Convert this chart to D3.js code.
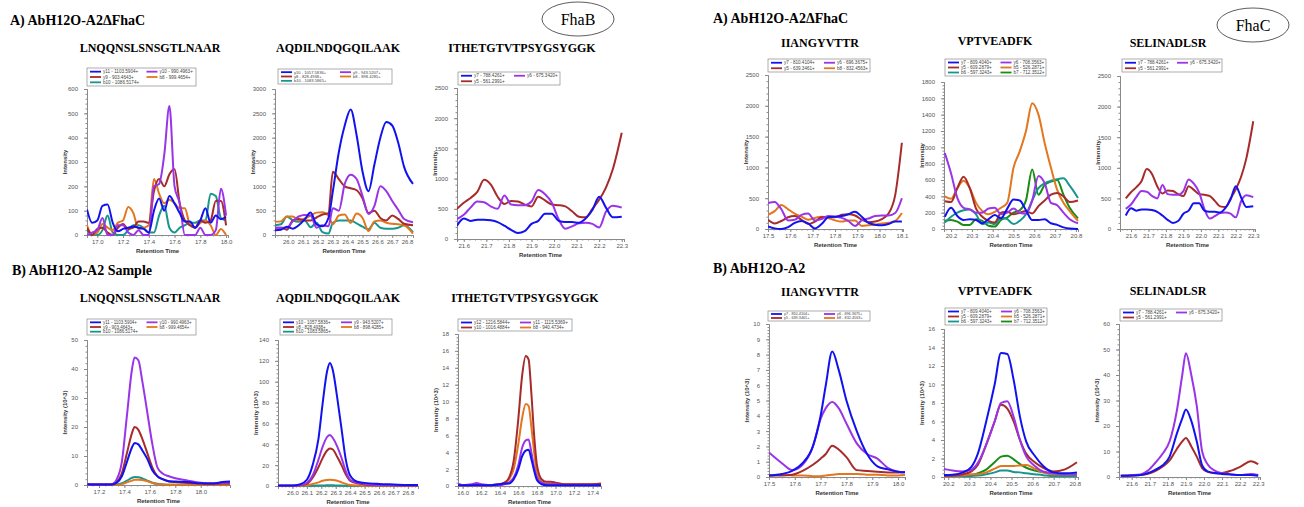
<!DOCTYPE html>
<html>
<head>
<meta charset="utf-8">
<script src="https://cdn.jsdelivr.net/npm/d3@7"></script>
<style>
  body { margin: 0; background: #fff; }
  svg { display: block; }
  .tick text { fill: #555; font-family: "Liberation Sans", Arial, sans-serif; font-size: 6px; }
  .domain, .tick line { stroke: #8a8a8a; }
</style>
</head>
<body>
<script>
// ---- colours of the fragment ions ----
const cBlue = "#1212f0", cRed = "#a62b2b", cPurple = "#9a34e8", cOrange = "#e3761e", cTeal = "#16968c", cGreen = "#178c17";

// ---- A) ΔFhaC, LNQQNSLSNSGTLNAAR ----
const t1 = [16.92,16.96,17.00,17.04,17.08,17.12,17.16,17.20,17.24,17.28,17.32,17.36,17.40,17.44,17.48,17.52,17.56,17.60,17.64,17.68,17.72,17.76,17.80,17.84,17.88,17.92,17.96,18.00];
const p1Blue   = [105,50,60,120,125,50,15,25,30,35,30,25,10,100,150,100,160,130,90,55,55,30,60,110,50,80,65,75];
const p1Purple = [0,10,20,70,0,0,40,40,10,0,20,0,0,200,210,330,530,200,130,0,0,0,30,0,0,20,190,80];
const p1Red    = [30,0,25,30,10,0,30,45,25,30,55,55,50,180,230,200,250,270,130,60,40,30,60,50,60,140,140,40];
const p1Orange = [40,0,10,45,30,20,50,60,115,90,25,30,40,230,170,130,145,130,110,110,40,30,50,60,40,0,25,0];
const p1Teal   = [20,0,0,20,80,10,0,0,20,40,40,30,10,10,80,120,30,10,30,40,50,50,60,60,170,160,70,60];

// ---- A) ΔFhaC, AQDILNDQGQILAAK ----
const t2 = [25.91,25.95,25.99,26.03,26.07,26.11,26.15,26.19,26.23,26.27,26.30,26.34,26.38,26.42,26.46,26.50,26.54,26.58,26.62,26.66,26.70,26.74,26.78,26.84];
const p2Blue   = [100,110,170,130,200,320,460,220,180,350,900,1700,2250,2580,2050,1300,900,1450,2000,2320,2250,1900,1400,1050];
const p2Purple = [150,150,150,280,380,410,400,150,200,180,550,500,1050,1240,1150,800,430,600,1000,900,700,520,330,260];
const p2Red    = [150,150,110,300,330,300,300,360,420,450,1300,1150,1000,960,920,750,450,500,350,300,400,330,230,200];
const p2Orange = [270,280,380,380,300,340,400,460,470,400,220,400,420,250,440,350,80,280,300,250,230,220,200,30];
const p2Teal   = [200,220,380,300,270,300,160,250,60,30,250,300,300,300,240,170,120,250,150,130,130,150,200,60];

// ---- A) ΔFhaC, ITHETGTVTPSYGSYGGK and SELINADLSR (same trace) ----
const t3 = [21.57,21.60,21.63,21.66,21.69,21.72,21.75,21.78,21.81,21.84,21.87,21.90,21.93,21.96,21.99,22.02,22.05,22.08,22.11,22.14,22.17,22.20,22.23,22.26,22.30];
const p3Blue   = [220,340,300,320,320,310,280,220,150,100,130,250,300,420,420,300,280,280,270,340,480,700,520,360,370];
const p3Red    = [500,600,680,780,980,900,700,580,630,620,570,540,700,640,570,560,540,460,370,360,500,650,850,1150,1760];
const p3Purple = [330,400,520,620,610,540,500,720,570,560,560,620,810,740,600,330,170,210,260,270,250,190,450,550,520];

// ---- B) Sample, LNQQNSLSNSGTLNAAR ----
const t4 = [17.11,17.20,17.30,17.34,17.38,17.42,17.46,17.48,17.51,17.54,17.58,17.62,17.66,17.70,17.75,17.80,17.90,18.00,18.10,18.17,18.23];
const p4Purple = [0.3,0.2,0.3,2,8,24,40,44,43,36,25,14,6,4,3,2.3,1.5,0.8,0.6,0.8,0.8];
const p4Red    = [0.2,0.2,0.2,1,4,11,18,20,19,16,11,6,3,2,1.2,1,0.7,0.5,0.4,0.5,0.5];
const p4Blue   = [0.3,0.2,0.2,0.8,3,8,13,14.5,14,12,9,5,3,2,1.3,1.2,1,0.6,0.5,1,1.2];
const p4Teal   = [0.1,0.1,0.1,0.2,0.6,1.5,2.5,2.8,2.7,2.3,1.5,0.8,0.4,0.2,0.1,0.1,0.1,0.1,0.1,0.1,0.1];
const p4Orange = [0.1,0.1,0.1,0.1,0.3,0.9,1.5,1.8,1.8,1.7,1.3,0.7,0.3,0.2,0.1,0.1,0.1,0.1,0.1,0.1,0.1];

// ---- B) Sample, AQDILNDQGQILAAK ----
const t5 = [25.90,26.00,26.05,26.10,26.14,26.18,26.21,26.24,26.26,26.28,26.31,26.34,26.37,26.40,26.45,26.50,26.60,26.70,26.80,26.87];
const p5Blue   = [0.5,0.5,1.5,6,20,45,80,110,118,111,85,55,25,10,4,3,2,1.5,1,1];
const p5Purple = [0.3,0.3,0.8,3,10,25,38,47,49,46,38,27,14,6,3,2,1,0.8,0.6,0.5];
const p5Red    = [0.3,0.3,0.6,2,8,18,27,34,36,35,28,20,11,5,2.5,1.5,0.8,0.6,0.5,0.4];
const p5Orange = [0.2,0.2,0.3,0.8,2,3.5,5,5.8,6,5.8,5,3.5,2,1,0.5,0.3,0.2,0.2,0.2,0.2];
const p5Teal   = [0.1,0.1,0.1,0.2,0.3,0.4,0.5,0.6,0.6,0.6,0.5,0.4,0.3,0.2,0.1,0.1,0.1,0.1,0.1,0.1];

// ---- B) Sample, ITHETGTVTPSYGSYGGK ----
const t6 = [15.95,16.00,16.10,16.15,16.20,16.30,16.40,16.45,16.50,16.55,16.60,16.64,16.68,16.71,16.74,16.77,16.80,16.85,16.90,16.95,17.00,17.10,17.20,17.30,17.40,17.49];
const p6Red    = [0.2,0.1,0.1,0.2,0.1,0.1,0.2,0.4,1,3,8,13,15.4,15,11,6,2.5,0.8,0.5,0.5,0.4,0.2,0.2,0.2,0.2,0.3];
const p6Orange = [0.1,0.1,0.1,0.1,0.1,0.1,0.2,0.3,0.8,2,5,8,9.7,9.5,7,4,1.5,0.5,0.3,0.3,0.3,0.2,0.2,0.2,0.2,0.2];
const p6Purple = [0.2,0.1,0.2,0.35,0.2,0.1,0.1,0.2,0.4,1,2.5,4.5,5.4,5.5,4,2.2,1,0.4,0.2,0.2,0.2,0.1,0.1,0.1,0.1,0.1];
const p6Blue   = [0.1,0.1,0.1,0.1,0.1,0.1,0.2,0.3,0.3,0.8,2,3.5,4.2,4.3,3.2,1.8,0.7,0.2,0.1,0.1,0.1,0.1,0.1,0.1,0.1,0.1];

// ---- A) ΔFhaC, IIANGYVTTR ----
const t7 = [17.50,17.53,17.56,17.59,17.62,17.65,17.68,17.71,17.74,17.77,17.80,17.83,17.86,17.89,17.92,17.95,17.98,18.01,18.04,18.07,18.10];
const p7Blue   = [40,10,0,30,100,130,90,10,80,190,200,210,240,280,200,100,70,60,80,120,120];
const p7Red    = [150,90,130,190,210,150,80,120,190,200,190,230,240,220,150,110,120,160,250,550,1400];
const p7Purple = [420,440,320,140,150,230,250,140,160,210,200,180,130,50,140,170,210,220,220,260,500];
const p7Orange = [230,290,390,320,250,200,150,180,200,180,140,120,140,140,50,60,70,90,100,130,260];

// ---- A) ΔFhaC, VPTVEADFK ----
const t8 = [20.17,20.20,20.23,20.26,20.29,20.32,20.35,20.38,20.41,20.44,20.47,20.50,20.53,20.56,20.59,20.62,20.65,20.68,20.71,20.74,20.77,20.81];
const p8Blue   = [150,260,160,110,120,110,70,120,170,130,250,360,350,230,110,110,120,70,50,20,5,0];
const p8Orange = [400,370,500,590,500,320,220,180,210,260,320,750,950,1200,1540,1400,1050,750,480,320,220,100];
const p8Red    = [340,330,500,640,500,250,150,100,80,200,210,180,200,220,190,280,350,420,440,400,330,350];
const p8Purple = [930,680,380,260,240,200,200,250,260,180,200,250,200,190,350,650,560,320,290,200,120,70];
const p8Teal   = [80,150,200,230,240,180,60,80,60,140,120,60,100,180,350,500,560,590,610,620,530,380];
const p8Green  = [100,110,90,50,50,120,100,40,30,110,140,200,230,350,730,420,540,580,600,420,260,130];

// ---- B) IIANGYVTTR ----
const t10 = [17.50,17.55,17.59,17.63,17.67,17.70,17.72,17.745,17.77,17.80,17.84,17.88,17.92,17.96,18.00,18.04,18.08,18.12];
const p10Blue   = [0.1,0.2,0.4,0.9,2,4,6,8.2,7,5,3,1.5,0.7,0.5,0.35,0.3,0.3,0.4];
const p10Purple = [1.6,0.9,0.45,0.8,2,3.8,4.5,4.9,4.5,3.5,2.2,1.5,1.2,0.6,0.35,0.3,0.3,0.3];
const p10Red    = [0.1,0.1,0.15,0.4,0.8,1.2,1.5,2.05,1.8,1.3,0.45,0.4,0.35,0.3,0.3,0.35,0.6,0.9];
const p10Orange = [0.1,0.15,0.1,0.1,0.05,0.05,0.1,0.15,0.2,0.2,0.2,0.15,0.15,0.1,0.1,0.15,0.2,0.2];

// ---- B) VPTVEADFK ----
const t11 = [20.17,20.22,20.27,20.31,20.34,20.38,20.42,20.45,20.48,20.51,20.54,20.57,20.61,20.65,20.70,20.75,20.81];
const p11Blue   = [0.2,0.25,0.5,1.1,2.5,6,10,13.4,13.3,10.5,6.5,3.8,2.3,1.2,0.5,0.4,0.5];
const p11Purple = [0.9,0.7,0.6,0.8,1.5,3.5,6,8,8.2,6.5,4,2.2,1.2,0.6,0.4,0.3,0.3];
const p11Red    = [0.1,0.15,0.3,0.6,1.3,3.5,6,7.8,7.4,6,4,2.5,1.6,1,0.6,0.8,1.6];
const p11Green  = [0.1,0.1,0.15,0.2,0.4,0.8,1.6,2.2,2.3,1.9,1.4,1,0.7,0.5,0.3,0.2,0.2];
const p11Orange = [0.1,0.15,0.2,0.3,0.3,0.5,0.9,1.2,1.2,1.2,1.25,1.3,0.9,0.5,0.3,0.3,0.3];
const p11Teal   = [0.1,0.1,0.1,0.1,0.15,0.3,0.5,0.7,0.7,0.55,0.5,0.4,0.3,0.2,0.1,0.1,0.1];

// ---- B) SELINADLSR ----
const t12 = [21.54,21.60,21.65,21.69,21.73,21.77,21.81,21.85,21.88,21.90,21.93,21.96,21.99,22.02,22.06,22.10,22.15,22.20,22.26,22.30];
const p12Purple = [0.5,0.7,1,2.5,5.5,9,14,26,40,48.5,40,28,10,5,2.5,1.5,1,0.8,1.2,0.8];
const p12Blue   = [0.5,0.6,0.8,1.5,2.8,4.5,8,17,23,26.5,22,14,4.5,2.2,1.6,1.2,1,0.8,0.8,0.5];
const p12Red    = [0.5,0.6,0.8,1.3,2.3,4,6.5,11,14,15.3,12,8,3.5,2,1.5,1.6,2.5,4,6.2,5];

// ---- legend labels ----
const lgLNQQ  = ["y11 - 1103.5904+","y10 - 990.4963+","y9 - 903.4643+","b8 - 999.4654+","b10 - 1086.5174+"];
const lgAQDI  = ["y10 - 1057.5836+","y9 - 943.5207+","y8 - 828.4938+","b8 - 898.4285+","b10 - 1083.5865+"];
const lgSELI  = ["y7 - 788.4261+","y6 - 675.3420+","y5 - 561.2991+"];
const lgITHE  = ["y12 - 1216.5844+","y11 - 1115.5369+","y10 - 1016.4884+","b8 - 940.4734+"];
const lgIIAN  = ["y7 - 810.4104+","y6 - 696.3675+","y5 - 639.3461+","b8 - 832.4563+"];
const lgVPTV  = ["y7 - 809.4040+","y6 - 708.3563+","y5 - 609.2879+","b5 - 526.2871+","b6 - 597.3243+","b7 - 712.3512+"];

// ---- tick labels ----
const xt17a = [17.0,17.2,17.4,17.6,17.8,18.0];
const xt17b = [17.2,17.4,17.6,17.8,18.0];
const xt26  = [26.0,26.1,26.2,26.3,26.4,26.5,26.6,26.7,26.8];
const xt21  = [21.6,21.7,21.8,21.9,22.0,22.1,22.2,22.3];
const xt16  = [16.0,16.2,16.4,16.6,16.8,17.0,17.2,17.4];
const xt175 = [17.5,17.6,17.7,17.8,17.9,18.0,18.1];
const xt175b = [17.5,17.6,17.7,17.8,17.9,18.0];
const xt20  = [20.2,20.3,20.4,20.5,20.6,20.7,20.8];

const panels = [
  {title:"LNQQNSLSNSGTLNAAR", tx:150, ty:52, left:87, right:228, top:89, bottom:235, xDom:[16.92,18.015], yMax:600, yStep:100, xTicks:xt17a, xMinor:0.05,
   t:t1, series:[[p1Blue,cBlue],[p1Purple,cPurple],[p1Red,cRed],[p1Orange,cOrange],[p1Teal,cTeal]], legend:lgLNQQ, lg:[87,68,109,18], ylab:"Intensity"},
  {title:"AQDILNDQGQILAAK", tx:338, ty:52, left:275, right:413, top:89, bottom:235, xDom:[25.91,26.84], yMax:3000, yStep:500, xTicks:xt26, xMinor:0.025,
   t:t2, series:[[p2Blue,cBlue],[p2Purple,cPurple],[p2Red,cRed],[p2Orange,cOrange],[p2Teal,cTeal]], legend:lgAQDI, lg:[278,69,114,15], ylab:"Intensity"},
  {title:"ITHETGTVTPSYGSYGGK", tx:522, ty:52, left:457, right:624, top:88, bottom:239, xDom:[21.57,22.31], yMax:2500, yStep:500, xTicks:xt21, xMinor:0.025,
   t:t3, series:[[p3Blue,cBlue],[p3Purple,cPurple],[p3Red,cRed]], legend:lgSELI, lg:[458,72,102,13], ylab:"Intensity"},
  {title:"LNQQNSLSNSGTLNAAR", tx:150, ty:302, left:87, right:230, top:340, bottom:485, xDom:[17.106,18.23], yMax:50, yStep:10, xTicks:xt17b, xMinor:0.05,
   t:t4, series:[[p4Blue,cBlue],[p4Purple,cPurple],[p4Red,cRed],[p4Orange,cOrange],[p4Teal,cTeal]], legend:lgLNQQ, lg:[87,319,109,16], ylab:"Intensity (10^3)"},
  {title:"AQDILNDQGQILAAK", tx:338, ty:302, left:278, right:418, top:340, bottom:486, xDom:[25.9,26.87], yMax:140, yStep:20, xTicks:xt26, xMinor:0.025,
   t:t5, series:[[p5Blue,cBlue],[p5Purple,cPurple],[p5Red,cRed],[p5Orange,cOrange],[p5Teal,cTeal]], legend:lgAQDI, lg:[280,319,112,16], ylab:"Intensity (10^3)"},
  {title:"ITHETGTVTPSYGSYGGK", tx:525, ty:302, left:458, right:601, top:334, bottom:486, xDom:[15.95,17.49], yMax:18, yStep:2, xTicks:xt16, xMinor:0.05,
   t:t6, series:[[p6Blue,cBlue],[p6Purple,cPurple],[p6Red,cRed],[p6Orange,cOrange]], legend:lgITHE, lg:[458,319,114,12], ylab:"Intensity (10^3)"},
  {title:"IIANGYVTTR", tx:820, ty:47, left:768, right:903, top:75, bottom:229, xDom:[17.5,18.105], yMax:2500, yStep:500, xTicks:xt175, xMinor:0.025,
   t:t7, series:[[p7Blue,cBlue],[p7Purple,cPurple],[p7Red,cRed],[p7Orange,cOrange]], legend:lgIIAN, lg:[768,59,102,13], ylab:"Intensity"},
  {title:"VPTVEADFK", tx:995, ty:45, left:944, right:1078, top:82, bottom:229, xDom:[20.166,20.81], yMax:1800, yStep:200, xTicks:xt20, xMinor:0.025,
   t:t8, series:[[p8Blue,cBlue],[p8Purple,cPurple],[p8Red,cRed],[p8Orange,cOrange],[p8Teal,cTeal],[p8Green,cGreen]], legend:lgVPTV, lg:[945,59,101,17], ylab:"Intensity"},
  {title:"SELINADLSR", tx:1168, ty:47, left:1120, right:1255, top:76, bottom:229, xDom:[21.537,22.31], yMax:2500, yStep:500, xTicks:xt21, xMinor:0.025,
   t:t3, series:[[p3Blue,cBlue],[p3Purple,cPurple],[p3Red,cRed]], legend:lgSELI, lg:[1122,59,100,13], ylab:"Intensity"},
  {title:"IIANGYVTTR", tx:820, ty:296, left:769, right:920, clipRight:905, top:324, bottom:477, xDom:[17.5,18.085], yMax:10, yStep:1, xTicks:xt175b, xMinor:0.025,
   t:t10, series:[[p10Blue,cBlue],[p10Purple,cPurple],[p10Red,cRed],[p10Orange,cOrange]], legend:lgIIAN, lg:[768,311,102,10], ylab:"Intensity (10^3)"},
  {title:"VPTVEADFK", tx:995, ty:295, left:944, right:1078, top:329, bottom:477, xDom:[20.18,20.815], yMax:16, yStep:2, xTicks:xt20, xMinor:0.025,
   t:t11, series:[[p11Blue,cBlue],[p11Purple,cPurple],[p11Red,cRed],[p11Orange,cOrange],[p11Teal,cTeal],[p11Green,cGreen]], legend:lgVPTV, lg:[945,308,102,17], ylab:"Intensity (10^3)"},
  {title:"SELINADLSR", tx:1168, ty:295, left:1119, right:1260, top:324, bottom:477, xDom:[21.53,22.31], yMax:60, yStep:10, xTicks:xt21, xMinor:0.025,
   t:t12, series:[[p12Blue,cBlue],[p12Purple,cPurple],[p12Red,cRed]], legend:lgSELI, lg:[1120,309,102,12], ylab:"Intensity (10^3)"}
];

const svg = d3.select("body").append("svg").attr("width", 1304).attr("height", 507);

// headers
const headers = [["A) AbH12O-A2ΔFhaC", 10, 25], ["B) AbH12O-A2 Sample", 12, 275], ["A) AbH12O-A2ΔFhaC", 713, 23], ["B) AbH12O-A2", 713, 273]];
headers.forEach(h => svg.append("text").attr("x", h[1]).attr("y", h[2])
  .style("font-family", "'Liberation Serif', 'Times New Roman', serif").style("font-weight", "bold").style("font-size", "14px").text(h[0]));

// protein ellipses
[["FhaB", 578, 19], ["FhaC", 1253, 25]].forEach(e => {
  svg.append("ellipse").attr("cx", e[1]).attr("cy", e[2]).attr("rx", 36).attr("ry", 17)
    .attr("fill", "none").attr("stroke", "#333").attr("stroke-width", 0.8);
  svg.append("text").attr("x", e[1]).attr("y", e[2] + 6).attr("text-anchor", "middle")
    .style("font-family", "'Liberation Serif', 'Times New Roman', serif").style("font-size", "16px").text(e[0]);
});

panels.forEach((p, i) => drawPanel(p, i));

function drawPanel(p, i) {
  const g = svg.append("g");
  const x = d3.scaleLinear().domain(p.xDom).range([p.left, p.right]);
  const y = d3.scaleLinear().domain([0, p.yMax]).range([p.bottom, p.top]);
  const cr = p.clipRight || p.right + 2;

  g.append("clipPath").attr("id", "clip" + i).append("rect")
    .attr("x", p.left).attr("y", p.top - 5).attr("width", cr - p.left).attr("height", p.bottom - p.top + 6);

  // title
  g.append("text").attr("x", p.tx).attr("y", p.ty).attr("text-anchor", "middle")
    .style("font-family", "'Liberation Serif', 'Times New Roman', serif").style("font-weight", "bold").style("font-size", "12px")
    .text(p.title);

  // y axis, major and minor
  const yMajor = d3.range(0, p.yMax + p.yStep / 2, p.yStep);
  const yMinor = d3.range(0, p.yMax + 1e-9, p.yStep / 5);
  g.append("g").attr("transform", `translate(${p.left},0)`)
    .call(d3.axisLeft(y).tickValues(yMinor).tickSize(1.5).tickFormat(""));
  g.append("g").attr("transform", `translate(${p.left},0)`)
    .call(d3.axisLeft(y).tickValues(yMajor).tickSize(3).tickPadding(6).tickFormat(d3.format("d")));

  // x axis, major and minor (kept within the visible plot width)
  const xs = x.copy().range([p.left, Math.min(p.right, cr)]).domain([p.xDom[0], x.invert(Math.min(p.right, cr))]);
  const xMinor = d3.range(Math.ceil(p.xDom[0] / p.xMinor) * p.xMinor, xs.domain()[1], p.xMinor);
  g.append("g").attr("transform", `translate(0,${p.bottom})`)
    .call(d3.axisBottom(xs).tickValues(xMinor).tickSize(1.5).tickFormat(""));
  g.append("g").attr("transform", `translate(0,${p.bottom})`)
    .call(d3.axisBottom(xs).tickValues(p.xTicks).tickSize(3).tickPadding(2).tickFormat(d3.format(".1f")));

  // axis titles
  g.append("text").attr("transform", `translate(${p.left - 20},${(p.top + p.bottom) / 2}) rotate(-90)`)
    .attr("text-anchor", "middle")
    .style("font-family", "'Liberation Sans', Arial, sans-serif").style("font-size", "6px").style("font-weight", "bold").style("fill", "#333")
    .text(p.ylab);
  g.append("text").attr("x", (p.left + Math.min(p.right, cr)) / 2).attr("y", p.bottom + 18).attr("text-anchor", "middle")
    .style("font-family", "'Liberation Sans', Arial, sans-serif").style("font-size", "6px").style("font-weight", "bold").style("fill", "#333")
    .text("Retention Time");

  // traces
  const line = d3.line().curve(d3.curveMonotoneX).x(d => x(d[0])).y(d => y(d[1]));
  const lines = g.append("g").attr("clip-path", `url(#clip${i})`);
  p.series.slice().reverse().forEach(s => {
    lines.append("path").datum(p.t.map((t, k) => [t, s[0][k]]))
      .attr("fill", "none").attr("stroke", s[1]).attr("stroke-width", 2).attr("stroke-linejoin", "round")
      .attr("d", line);
  });

  // legend box
  const [lx, ly, lw, lh] = p.lg;
  const lg = g.append("g");
  lg.append("rect").attr("x", lx).attr("y", ly).attr("width", lw).attr("height", lh)
    .attr("fill", "#fff").attr("stroke", "#777").attr("stroke-width", 0.6);
  const rows = Math.ceil(p.legend.length / 2);
  const rowH = (lh - 2) / rows;
  const fs = Math.min(4.6, rowH * 0.95);
  p.legend.forEach((lab, k) => {
    const col = k % 2, row = Math.floor(k / 2);
    const cx = lx + 3 + col * (lw / 2 + 2);
    const cy = ly + 1 + rowH * (row + 0.5);
    lg.append("line").attr("x1", cx).attr("x2", cx + 11).attr("y1", cy).attr("y2", cy)
      .attr("stroke", p.series[k][1]).attr("stroke-width", Math.min(1.8, rowH * 0.45));
    lg.append("text").attr("x", cx + 13).attr("y", cy + fs * 0.35)
      .style("font-family", "'Liberation Sans', Arial, sans-serif").style("font-size", fs + "px").style("fill", "#444")
      .text(lab);
  });
}
</script>
</body>
</html>
